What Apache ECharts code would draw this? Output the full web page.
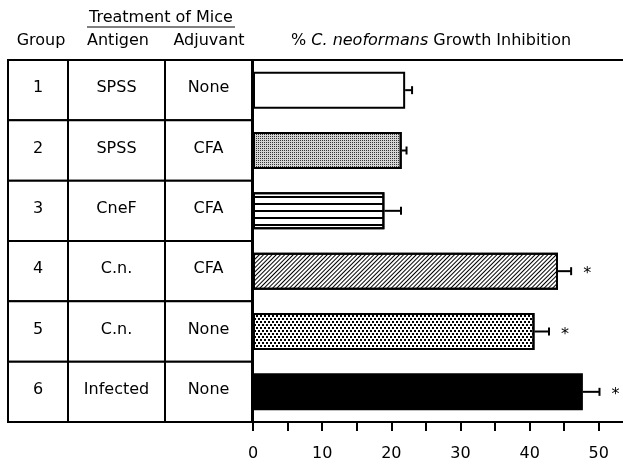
<!DOCTYPE html>
<html>
<head>
<meta charset="utf-8">
<script src="https://cdn.jsdelivr.net/npm/echarts@6/dist/echarts.min.js"></script>
<style>
  html, body { margin: 0; padding: 0; background: #fff; }
  #chart { width: 623px; height: 465px; }
</style>
</head>
<body>
<div id="chart"></div>
<script>
// table columns
const groups = ['1', '2', '3', '4', '5', '6'];
const antigens = ['SPSS', 'SPSS', 'CneF', 'C.n.', 'C.n.', 'Infected'];
const adjuvants = ['None', 'CFA', 'CFA', 'CFA', 'None', 'None'];

// % growth inhibition, error (upper only), significance mark
const inhibition = [22.0, 21.5, 19.0, 44.1, 40.7, 47.7];
const errors = [1.0, 0.7, 2.4, 1.9, 2.1, 2.4];
const significant = [false, false, false, true, true, true];

// axis ticks
const xLabels = [0, 10, 20, 30, 40, 50];
const xMinorTicks = [0, 5, 10, 15, 20, 25, 30, 35, 40, 45, 50];

const FONT = '"DejaVu Sans", sans-serif';

// column edges of the table (in px units of the table grid)
const colEdges = [0, 60, 157, 244];
const tableCols = [groups, antigens, adjuvants];

// fill patterns for each bar
const barStyles = [
  { color: '#fff' },
  { color: '#d4d4d4', decal: { symbol: 'rect', symbolSize: 1, dashArrayX: [1, 1], dashArrayY: [1, 1], color: '#333' } },
  { color: '#fff', decal: { symbol: 'rect', symbolSize: 1, dashArrayX: [1, 0], dashArrayY: [2, 5], color: '#000' } },
  { color: '#fff', decal: { symbol: 'rect', symbolSize: 1, dashArrayX: [1, 0], dashArrayY: [1, 2], rotation: -Math.PI / 4, color: '#000' } },
  { color: '#fff', decal: { symbol: 'rect', symbolSize: 1, dashArrayX: [[2, 2], [0, 2, 2, 0]], dashArrayY: [2, 1], color: '#000' } },
  { color: '#000' }
];

const chart = echarts.init(document.getElementById('chart'));

const option = {
  backgroundColor: '#fff',
  animation: false,
  grid: [
    { left: 8, top: 60, width: 244, height: 362 },
    { left: 253, top: 60, right: 0, height: 362 }
  ],
  xAxis: [
    { gridIndex: 0, type: 'value', min: 0, max: 244, show: false },
    {
      gridIndex: 1, type: 'value', min: 0, max: 53.5, position: 'bottom',
      axisLine: { show: true, lineStyle: { color: '#000', width: 2 } },
      axisTick: { show: true, customValues: xMinorTicks, length: 9, lineStyle: { color: '#000', width: 2 } },
      axisLabel: { customValues: xLabels, margin: 24, color: '#000', fontSize: 16, fontFamily: FONT },
      splitLine: { show: false }
    },
    {
      gridIndex: 1, type: 'value', min: 0, max: 53.5, position: 'top',
      axisLine: { show: true, lineStyle: { color: '#000', width: 2 } },
      axisTick: { show: false }, axisLabel: { show: false }, splitLine: { show: false }
    }
  ],
  yAxis: [
    { gridIndex: 0, type: 'category', data: groups, inverse: true, show: false },
    {
      gridIndex: 1, type: 'category', data: groups, inverse: true,
      axisLine: { show: true, lineStyle: { color: '#000', width: 2 } },
      axisTick: { show: false }, axisLabel: { show: false }
    }
  ],
  graphic: [
    { type: 'text', x: 161, y: 18, style: { text: 'Treatment of Mice', font: '16px ' + FONT, fill: '#000', align: 'center', verticalAlign: 'middle', textAlign: 'center', textVerticalAlign: 'middle' } },
    { type: 'line', shape: { x1: 87, y1: 27, x2: 235, y2: 27 }, style: { stroke: '#000', lineWidth: 1 } },
    { type: 'text', x: 41, y: 41, style: { text: 'Group', font: '16px ' + FONT, fill: '#000', align: 'center', verticalAlign: 'middle', textAlign: 'center', textVerticalAlign: 'middle' } },
    { type: 'text', x: 118, y: 41, style: { text: 'Antigen', font: '16px ' + FONT, fill: '#000', align: 'center', verticalAlign: 'middle', textAlign: 'center', textVerticalAlign: 'middle' } },
    { type: 'text', x: 209, y: 41, style: { text: 'Adjuvant', font: '16px ' + FONT, fill: '#000', align: 'center', verticalAlign: 'middle', textAlign: 'center', textVerticalAlign: 'middle' } },
    {
      type: 'text', x: 291, y: 41,
      style: {
        text: '{n|% }{i|C. neoformans}{n| Growth Inhibition}',
        fill: '#000', align: 'left', verticalAlign: 'middle', textAlign: 'left', textVerticalAlign: 'middle',
        rich: {
          n: { fontSize: 16, fontFamily: FONT, fill: '#000' },
          i: { fontSize: 16, fontFamily: FONT, fontStyle: 'italic', fill: '#000' }
        }
      }
    }
  ],
  series: [
    {
      // table cells
      type: 'custom',
      xAxisIndex: 0,
      yAxisIndex: 0,
      data: groups.map((g, i) => [0, i]),
      encode: { x: 0, y: 1 },
      renderItem: function (params, api) {
        const row = api.value(1);
        const bandH = api.size([0, 1])[1];
        const cy = api.coord([0, row])[1];
        const children = [];
        for (let c = 0; c < 3; c++) {
          const x0 = api.coord([colEdges[c], row])[0];
          const x1 = api.coord([colEdges[c + 1], row])[0];
          children.push({
            type: 'rect',
            shape: { x: x0, y: cy - bandH / 2, width: x1 - x0, height: bandH },
            style: { fill: '#fff', stroke: '#000', lineWidth: 2 }
          });
          children.push({
            type: 'text',
            x: (x0 + x1) / 2,
            y: cy - 2,
            style: { text: tableCols[c][row], font: '16px ' + FONT, fill: '#000', align: 'center', verticalAlign: 'middle' }
          });
        }
        return { type: 'group', children: children };
      }
    },
    {
      type: 'bar',
      xAxisIndex: 1,
      yAxisIndex: 1,
      barWidth: 37,
      data: inhibition.map((v, i) => ({
        value: v,
        itemStyle: Object.assign({ borderColor: '#000', borderWidth: 2 }, barStyles[i])
      }))
    },
    {
      // error bars and significance stars
      type: 'custom',
      xAxisIndex: 1,
      yAxisIndex: 1,
      data: inhibition.map((v, i) => [v, i, errors[i], significant[i] ? 1 : 0]),
      encode: { x: 0, y: 1 },
      z: 5,
      renderItem: function (params, api) {
        const v = api.value(0);
        const row = api.value(1);
        const e = api.value(2);
        const p0 = api.coord([v, row]);
        const p1 = api.coord([v + e, row]);
        const children = [
          { type: 'line', shape: { x1: p0[0], y1: p0[1], x2: p1[0], y2: p1[1] }, style: { stroke: '#000', lineWidth: 2 } },
          { type: 'line', shape: { x1: p1[0], y1: p1[1] - 4, x2: p1[0], y2: p1[1] + 4 }, style: { stroke: '#000', lineWidth: 2 } }
        ];
        if (api.value(3)) {
          children.push({
            type: 'text',
            x: p1[0] + 16,
            y: p1[1] + 3,
            style: { text: '*', font: '16px ' + FONT, fill: '#000', align: 'center', verticalAlign: 'middle' }
          });
        }
        return { type: 'group', children: children };
      }
    }
  ]
};

chart.setOption(option);
</script>
</body>
</html>
